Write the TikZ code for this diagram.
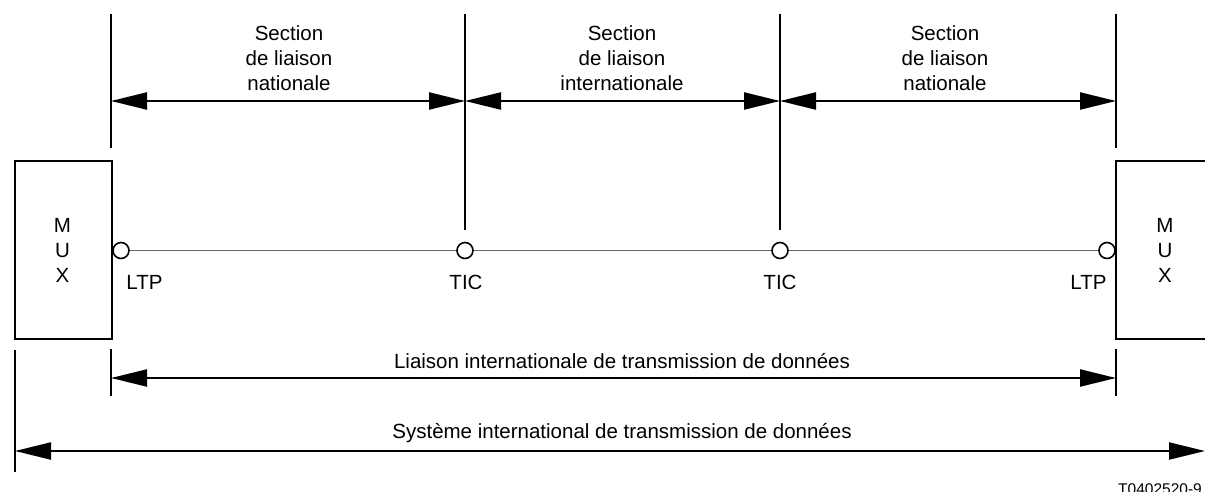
\documentclass[tikz,border=0pt]{standalone}
\usepackage{fontspec}
\setmainfont{Liberation Sans}
\usetikzlibrary{arrows.meta}
\begin{document}
\begin{tikzpicture}[x=1pt,y=-1pt,
  every node/.style={font=\fontsize{20.5}{25}\selectfont, inner sep=0pt},
  tick/.style={line width=2pt},
  dim/.style={line width=2.2pt, {Triangle[length=36pt,width=17pt]}-{Triangle[length=36pt,width=17pt]}},
  muxbox/.style={line width=2pt},
  port/.style={circle, draw, line width=1.6pt, fill=white, minimum size=16pt, inner sep=0pt},
  wire/.style={line width=1.4pt, draw=black!60},
  lbl/.style={align=center}]
\useasboundingbox (0,0) rectangle (1205,492);

% MUX boxes
\draw[muxbox] (15,161) rectangle (112,339);
\draw[muxbox] (1116,161) rectangle (1214,339);
\node (muxL) [align=center, font=\fontsize{20.5}{25}\selectfont] at (62.5,250) {M\\U\\X};
\node (muxR) [align=center, font=\fontsize{20.5}{25}\selectfont] at (1165,250) {M\\U\\X};

% coordinates of tick lines
\coordinate (aT) at (111,14);   \coordinate (aB) at (111,148);
\coordinate (bT) at (465,14);   \coordinate (bB) at (465,230);
\coordinate (cT) at (780,14);   \coordinate (cB) at (780,230);
\coordinate (dT) at (1116,14);  \coordinate (dB) at (1116,148);
\draw[tick] (aT) -- (aB);
\draw[tick] (bT) -- (bB);
\draw[tick] (cT) -- (cB);
\draw[tick] (dT) -- (dB);

% section arrows
\coordinate (a1) at (111,101); \coordinate (b1) at (465,101);
\coordinate (c1) at (780,101); \coordinate (d1) at (1116,101);
\draw[dim] (a1) -- (b1);
\draw[dim] (b1) -- (c1);
\draw[dim] (c1) -- (d1);

\node (s1) [lbl] at (289,58) {Section\\de liaison\\nationale};
\node (s2) [lbl] at (622,58) {Section\\de liaison\\internationale};
\node (s3) [lbl] at (945,58) {Section\\de liaison\\nationale};

% ports and wire
\node (p1) [port] at (121,250.5) {};
\node (p2) [port] at (465,250.5) {};
\node (p3) [port] at (780,250.5) {};
\node (p4) [port] at (1107,250.5) {};
\draw[wire] (p1) -- (p2);
\draw[wire] (p2) -- (p3);
\draw[wire] (p3) -- (p4);

\node (l1) at (144.5,282) {LTP};
\node (l2) at (466,282) {TIC};
\node (l3) at (780,282) {TIC};
\node (l4) at (1088.5,282) {LTP};

% lower dimensions
\coordinate (eT) at (111,349); \coordinate (eB) at (111,396);
\coordinate (fT) at (1116,349); \coordinate (fB) at (1116,396);
\coordinate (gT) at (15,350); \coordinate (gB) at (15,472);
\draw[tick] (eT) -- (eB);
\draw[tick] (fT) -- (fB);
\draw[tick] (gT) -- (gB);

\coordinate (e1) at (111,378); \coordinate (f1) at (1116,378);
\draw[dim] (e1) -- (f1);
\node (liaison) at (622,361) {Liaison internationale de transmission de données};

\coordinate (g1) at (15,451); \coordinate (h1) at (1205,451);
\draw[dim] (g1) -- (h1);
\node (systeme) at (622,433) {Système international de transmission de données};

\node (ref) [font=\fontsize{15.5}{18}\selectfont, anchor=base] at (1160,494) {T0402520-9};
\end{tikzpicture}
\end{document}
